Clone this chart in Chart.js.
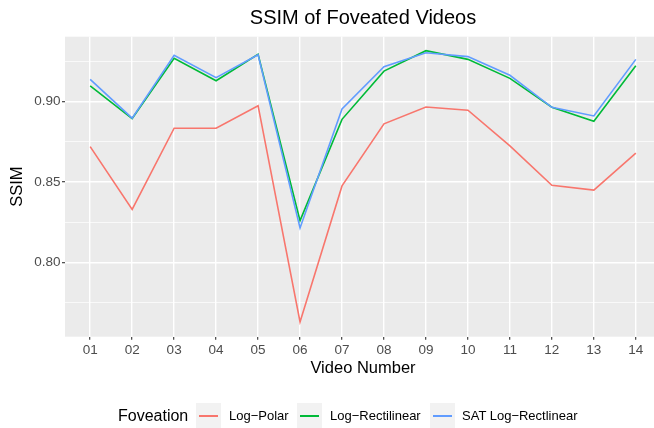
<!DOCTYPE html>
<html>
<head>
<meta charset="utf-8">
<script src="https://cdn.jsdelivr.net/npm/chart.js@4"></script>
<style>
    html, body { margin: 0; padding: 0; background: #fff; overflow: hidden; }
    #wrap { position: relative; width: 654px; height: 428px; overflow: hidden; }
    #grafico { position: absolute; left: 0; top: 0; }
    .leyenda { position: absolute; font-family: "Liberation Sans", Arial, sans-serif; color: #000; }
    .titulo-leyenda { font-size: 16px; top: 406px; left: 118px; line-height: 20px; }
    .clave { position: absolute; top: 403px; width: 25px; height: 25px; background: #f2f2f2; }
    .clave span { position: absolute; left: 3px; right: 3px; top: 11.5px; height: 2px; }
    .texto { font-size: 13px; top: 408px; line-height: 16px; }
</style>
</head>
<body>
<div id="wrap">
    <canvas id="grafico" width="662" height="428"></canvas>
    <div id="leyenda"></div>
</div>
<script>
        // Datos
        const videos = ['01', '02', '03', '04', '05', '06', '07', '08', '09', '10', '11', '12', '13', '14'];
        const logPolar = [0.872, 0.833, 0.8835, 0.8835, 0.8975, 0.763, 0.8476, 0.8862, 0.8967, 0.8947, 0.8725, 0.848, 0.845, 0.868];
        const logRectilinear = [0.9098, 0.8895, 0.927, 0.913, 0.9294, 0.826, 0.889, 0.919, 0.9317, 0.9263, 0.9145, 0.8965, 0.8878, 0.9223];
        const satLogRectlinear = [0.9139, 0.8897, 0.9288, 0.9149, 0.9292, 0.8214, 0.8955, 0.9217, 0.9304, 0.928, 0.9164, 0.8965, 0.8911, 0.9263];
        const series = ['Log\u2212Polar', 'Log\u2212Rectilinear', 'SAT Log\u2212Rectlinear'];
        const colores = ['#F8766D', '#00BA38', '#619CFF'];
        const yMajor = [0.80, 0.85, 0.90];
        const yMinor = [0.775, 0.825, 0.875, 0.925];

        const fuente = '"Liberation Sans", Arial, sans-serif';

        function esMayor(v) {
            return yMajor.some(m => Math.abs(m - v) < 1e-9);
        }

        function puntos(valores) {
            return valores.map((v, i) => ({ x: i + 1, y: v }));
        }

        // Fondo gris del panel (estilo ggplot)
        const fondoPanel = {
            id: 'fondoPanel',
            beforeDraw(chart) {
                const { ctx, chartArea } = chart;
                ctx.save();
                ctx.fillStyle = '#EBEBEB';
                ctx.fillRect(chartArea.left, chartArea.top, chartArea.right - chartArea.left, chartArea.bottom - chartArea.top);
                ctx.restore();
            }
        };

        function initChart() {
            const ctx = document.getElementById('grafico').getContext('2d');
            const valores = [logPolar, logRectilinear, satLogRectlinear];
            new Chart(ctx, {
                type: 'line',
                data: {
                    datasets: valores.map((v, i) => ({
                        label: series[i],
                        data: puntos(v),
                        borderColor: colores[i],
                        backgroundColor: colores[i],
                        borderWidth: 1.6,
                        pointRadius: 0,
                        tension: 0,
                        order: 2 - i
                    }))
                },
                options: {
                    responsive: false,
                    animation: false,
                    devicePixelRatio: 1,
                    layout: { padding: { left: 8, right: 1, top: 0, bottom: 49.3 } },
                    plugins: {
                        legend: { display: false },
                        tooltip: { enabled: false },
                        title: {
                            display: true,
                            text: 'SSIM of Foveated Videos',
                            fullSize: false,
                            color: '#000',
                            font: { family: fuente, size: 20, weight: 'normal', lineHeight: 1.2 },
                            padding: { top: 6, bottom: 6.7 }
                        }
                    },
                    scales: {
                        x: {
                            type: 'linear',
                            min: 0.4,
                            max: 14.6,
                            afterBuildTicks: axis => { axis.ticks = videos.map((_, i) => ({ value: i + 1 })); },
                            afterFit: axis => { axis.height = 42; },
                            border: { display: false },
                            grid: {
                                color: '#FFFFFF',
                                lineWidth: 1.4,
                                tickColor: '#333333',
                                tickLength: 3,
                                tickWidth: 1.1
                            },
                            ticks: {
                                color: '#4D4D4D',
                                padding: 2,
                                maxRotation: 0,
                                font: { family: fuente, size: 13.5 },
                                callback: value => videos[Math.round(value) - 1]
                            },
                            title: {
                                display: true,
                                text: 'Video Number',
                                color: '#000',
                                font: { family: fuente, size: 16.5, lineHeight: 1.2 },
                                padding: { top: 1, bottom: 0 }
                            }
                        },
                        y: {
                            type: 'linear',
                            min: 0.7538,
                            max: 0.9404,
                            afterBuildTicks: axis => {
                                axis.ticks = yMajor.concat(yMinor).sort((a, b) => a - b).map(v => ({ value: v }));
                            },
                            afterFit: axis => { axis.width = 57; },
                            border: { display: false },
                            grid: {
                                color: '#FFFFFF',
                                lineWidth: c => esMayor(c.tick.value) ? 1.4 : 0.7,
                                tickColor: c => esMayor(c.tick.value) ? '#333333' : 'rgba(0,0,0,0)',
                                tickLength: 3,
                                tickWidth: 1.1
                            },
                            ticks: {
                                color: '#4D4D4D',
                                padding: 1.5,
                                font: { family: fuente, size: 13.5 },
                                callback: value => esMayor(value) ? value.toFixed(2) : ''
                            },
                            title: {
                                display: true,
                                text: 'SSIM',
                                color: '#000',
                                font: { family: fuente, size: 16.5, lineHeight: 1.2 },
                                padding: { top: 0, bottom: 0 }
                            }
                        }
                    }
                },
                plugins: [fondoPanel]
            });
        }

        // Leyenda al estilo ggplot (HTML)
        function mostrarLeyenda() {
            const cont = document.getElementById('leyenda');
            const posClave = [196, 297, 430];
            const posTexto = [229, 330, 462];
            let html = '<div class="leyenda titulo-leyenda">Foveation</div>';
            series.forEach((nombre, i) => {
                html += `<div class="clave" style="left:${posClave[i]}px"><span style="background:${colores[i]}"></span></div>`;
                html += `<div class="leyenda texto" style="left:${posTexto[i]}px">${nombre}</div>`;
            });
            cont.innerHTML = html;
        }

        document.addEventListener('DOMContentLoaded', function() {
            initChart();
            mostrarLeyenda();
        });
</script>
</body>
</html>
